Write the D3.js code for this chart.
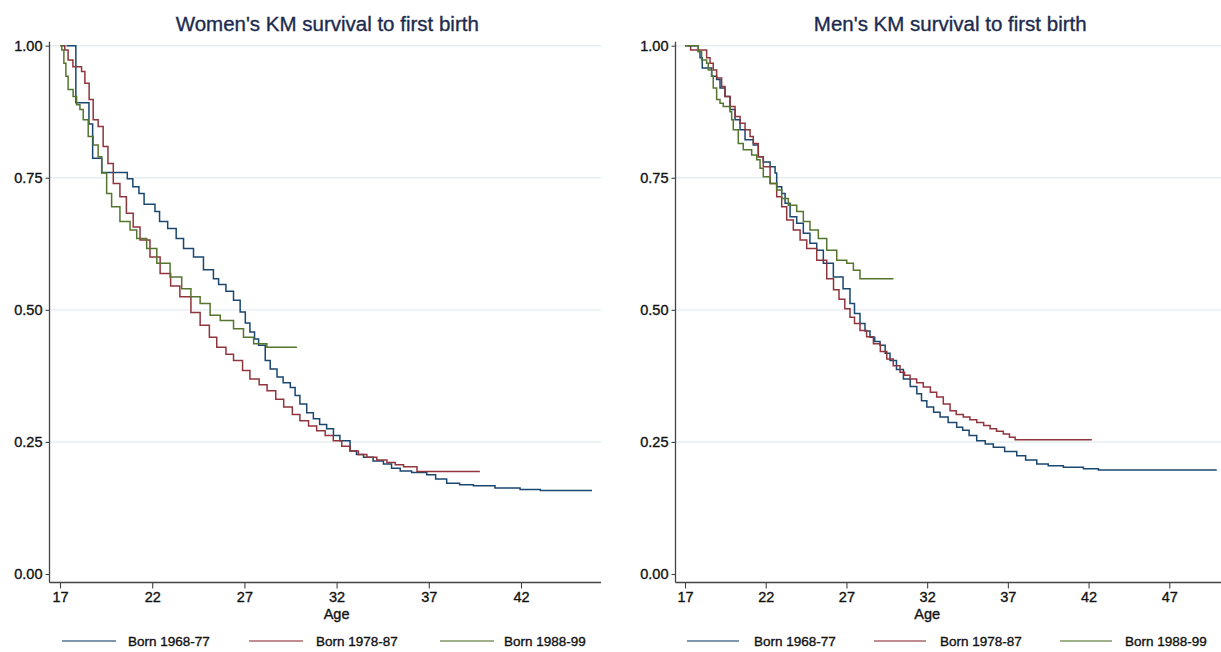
<!DOCTYPE html>
<html>
<head>
<meta charset="utf-8">
<script src="https://cdn.jsdelivr.net/npm/d3@7"></script>
<style>
  html, body { margin: 0; padding: 0; background: #ffffff; }
  svg { display: block; }
  text { font-family: "Liberation Sans", Arial, Helvetica, sans-serif; }
</style>
</head>
<body>
<svg id="chart" width="1221" height="652"></svg>
<script>
// ---- Data (age, survival) ----
const seriesNames = ["Born 1968-77", "Born 1978-87", "Born 1988-99"];
const yTicks = [0, 0.25, 0.5, 0.75, 1];
const womenTicks = [17, 22, 27, 32, 37, 42];
const menTicks = [17, 22, 27, 32, 37, 42, 47];

const women1968 = [[17.35,1],[17.86,0.892],[18.57,0.852],[18.77,0.787],[19.27,0.760],[20.65,0.748],[20.95,0.733],[21.28,0.720],[21.56,0.70],[22.15,0.686],[22.4,0.667],[22.84,0.654],[23.3,0.635],[23.7,0.616],[24.24,0.600],[24.78,0.576],[25.32,0.559],[25.6,0.548],[26.0,0.535],[26.41,0.518],[26.77,0.496],[27.05,0.475],[27.3,0.458],[27.55,0.445],[27.77,0.433],[28.13,0.404],[28.4,0.388],[28.77,0.373],[29.1,0.362],[29.49,0.353],[29.75,0.338],[30.01,0.322],[30.38,0.305],[30.74,0.294],[31.08,0.283],[31.46,0.275],[31.83,0.262],[32.18,0.252],[32.73,0.233],[33.08,0.226],[33.46,0.221],[33.98,0.214],[34.54,0.208],[34.98,0.200],[35.45,0.195],[36.07,0.192],[36.89,0.188],[37.37,0.180],[37.97,0.172],[38.67,0.169],[39.42,0.167],[40.59,0.163],[41.95,0.160],[43.05,0.158],[45.85,0.158]];
const women1978 = [[17.05,1],[17.26,0.992],[17.44,0.973],[17.7,0.96],[18.17,0.951],[18.35,0.929],[18.58,0.898],[18.8,0.86],[19.07,0.847],[19.34,0.809],[19.6,0.777],[19.89,0.739],[20.25,0.714],[20.6,0.683],[20.97,0.657],[21.34,0.632],[21.88,0.600],[22.43,0.569],[23.0,0.545],[23.5,0.525],[24.1,0.495],[24.6,0.471],[25.1,0.448],[25.5,0.429],[26.0,0.416],[26.41,0.404],[26.9,0.385],[27.3,0.369],[27.8,0.358],[28.23,0.347],[28.7,0.331],[29.13,0.316],[29.6,0.302],[30.01,0.29],[30.48,0.28],[30.92,0.271],[31.38,0.262],[31.82,0.252],[32.28,0.242],[32.73,0.233],[33.18,0.226],[33.64,0.221],[34.18,0.216],[34.73,0.211],[35.18,0.207],[35.63,0.203],[36.36,0.194],[39.77,0.194]];
const women1988 = [[17.0,1],[17.1,0.992],[17.21,0.967],[17.32,0.942],[17.44,0.917],[17.71,0.904],[17.9,0.888],[18.08,0.879],[18.26,0.86],[18.53,0.828],[18.8,0.812],[19.07,0.79],[19.26,0.759],[19.53,0.72],[19.8,0.695],[20.25,0.667],[20.8,0.651],[21.16,0.635],[21.7,0.616],[22.25,0.588],[22.97,0.562],[23.6,0.54],[24.1,0.525],[24.6,0.512],[25.14,0.49],[25.69,0.48],[26.41,0.464],[26.95,0.448],[27.5,0.436],[28.22,0.429],[29.85,0.429]];

const men1968 = [[17.0,1],[17.82,0.989],[17.93,0.977],[18.07,0.958],[18.65,0.942],[18.96,0.936],[19.17,0.92],[19.48,0.904],[19.79,0.879],[20.10,0.86],[20.41,0.841],[20.72,0.822],[21.23,0.812],[21.54,0.79],[21.85,0.78],[22.27,0.771],[22.58,0.759],[22.68,0.733],[22.99,0.72],[23.20,0.702],[23.51,0.676],[23.92,0.664],[24.33,0.645],[24.74,0.626],[25.16,0.613],[25.57,0.588],[26.19,0.562],[26.79,0.54],[27.22,0.512],[27.5,0.493],[27.84,0.474],[28.15,0.46],[28.46,0.448],[28.75,0.44],[29.08,0.433],[29.4,0.418],[29.70,0.404],[30.1,0.387],[30.53,0.369],[30.95,0.355],[31.36,0.341],[31.65,0.328],[31.98,0.316],[32.4,0.306],[32.80,0.297],[33.3,0.287],[33.83,0.278],[34.2,0.272],[34.6,0.262],[35.07,0.252],[35.6,0.246],[36.10,0.240],[36.8,0.232],[37.55,0.224],[38.1,0.216],[38.79,0.208],[39.5,0.205],[40.44,0.202],[41.68,0.199],[42.61,0.197],[49.94,0.197]];
const men1978 = [[17.2,1],[17.35,0.992],[18.34,0.977],[18.55,0.967],[18.75,0.954],[18.96,0.939],[19.27,0.923],[19.48,0.904],[19.79,0.885],[20.10,0.866],[20.41,0.853],[20.72,0.841],[21.03,0.828],[21.23,0.815],[21.54,0.79],[21.85,0.771],[22.27,0.739],[22.68,0.714],[22.99,0.695],[23.30,0.67],[23.71,0.651],[24.13,0.632],[24.54,0.616],[25.16,0.594],[25.78,0.559],[26.2,0.538],[26.54,0.52],[26.9,0.502],[27.22,0.486],[27.5,0.474],[27.84,0.461],[28.25,0.449],[28.67,0.436],[29.1,0.421],[29.50,0.407],[29.9,0.394],[30.32,0.382],[30.6,0.376],[30.94,0.369],[31.35,0.362],[31.76,0.354],[32.2,0.344],[32.59,0.335],[33.0,0.322],[33.42,0.309],[33.8,0.302],[34.24,0.297],[34.65,0.292],[35.07,0.287],[35.5,0.281],[35.90,0.275],[36.3,0.27],[36.72,0.265],[37.1,0.259],[37.45,0.254],[42.20,0.254]];
const men1988 = [[17.0,1],[17.82,0.989],[18.03,0.973],[18.34,0.967],[18.44,0.954],[18.65,0.942],[18.75,0.92],[18.96,0.898],[19.17,0.891],[19.37,0.885],[19.79,0.875],[19.89,0.86],[19.99,0.841],[20.30,0.815],[20.61,0.803],[21.13,0.793],[21.44,0.784],[21.65,0.768],[21.85,0.752],[22.27,0.739],[22.68,0.727],[22.99,0.711],[23.40,0.698],[23.92,0.686],[24.33,0.667],[24.74,0.651],[25.26,0.635],[25.78,0.613],[26.40,0.594],[27.02,0.588],[27.43,0.575],[27.84,0.559],[29.91,0.559]];

const colors = ["#1a476f", "#90353b", "#55752f"];

// ---- Drawing ----
const svg = d3.select("#chart");

const panels = [
  { title: "Women's KM survival to first birth", series: [women1968, women1978, women1988],
    ticks: womenTicks, axisX: 49.5, rightX: 601, tick0: 60, tickEnd: 521, domEnd: 42,
    legend: [{lx: 62, tx: 128}, {lx: 249, tx: 316}, {lx: 440, tx: 504}], legendLen: 54 },
  { title: "Men's KM survival to first birth", series: [men1968, men1978, men1988],
    ticks: menTicks, axisX: 675.5, rightX: 1221, tick0: 685, tickEnd: 1169.3, domEnd: 47,
    legend: [{lx: 687, tx: 754}, {lx: 874, tx: 940}, {lx: 1060, tx: 1125}], legendLen: 52 }
];

const y = d3.scaleLinear().domain([0, 1]).range([574, 45.7]);
const axisY = 582.5;

function heavy(sel, col) {
  sel.attr("fill", col).attr("stroke", col).attr("stroke-width", 0.35);
}

panels.forEach(p => {
  const x = d3.scaleLinear().domain([17, p.domEnd]).range([p.tick0, p.tickEnd]);
  const g = svg.append("g");

  // gridlines
  g.append("g").selectAll("line").data(yTicks.filter(v => v > 0)).join("line")
    .attr("x1", p.axisX).attr("x2", p.rightX)
    .attr("y1", d => y(d)).attr("y2", d => y(d))
    .attr("stroke", "#e6eef1").attr("stroke-width", 1.4);

  // y axis
  const ya = g.append("g").attr("transform", `translate(${p.axisX},0)`)
    .call(d3.axisLeft(y).tickValues(yTicks).tickFormat(d3.format(".2f")).tickSize(4).tickPadding(3));
  ya.select(".domain").attr("d", `M0,${y(1) - 4}V${axisY}`).attr("stroke", "#444").attr("stroke-width", 1.3);
  ya.selectAll(".tick line").attr("stroke", "#444").attr("stroke-width", 1.1);
  ya.selectAll(".tick text").attr("font-size", 14.5)
    .attr("font-family", "'Liberation Sans', Arial, sans-serif").call(heavy, "#111");

  // x axis
  const xa = g.append("g").attr("transform", `translate(0,${axisY})`)
    .call(d3.axisBottom(x).tickValues(p.ticks).tickFormat(d3.format("d")).tickSize(6).tickPadding(3));
  xa.select(".domain").attr("d", `M${p.axisX},0H${p.rightX}`).attr("stroke", "#444").attr("stroke-width", 1.3);
  xa.selectAll(".tick line").attr("stroke", "#444").attr("stroke-width", 1.1);
  xa.selectAll(".tick text").attr("font-size", 14.5)
    .attr("font-family", "'Liberation Sans', Arial, sans-serif").call(heavy, "#111");

  // axis title
  const midX = (p.axisX + p.rightX) / 2;
  g.append("text").attr("x", x(32)).attr("y", 619).attr("text-anchor", "middle")
    .attr("font-size", 14.5).call(heavy, "#111").text("Age");

  // title
  g.append("text").attr("x", midX + 2).attr("y", 30.5).attr("text-anchor", "middle")
    .attr("font-size", 20.5).call(heavy, "#1c2b4e").text(p.title);

  // curves
  const line = d3.line().x(d => x(d[0])).y(d => y(d[1])).curve(d3.curveStepAfter);
  p.series.forEach((s, i) => {
    g.append("path").datum(s).attr("d", line)
      .attr("fill", "none").attr("stroke", colors[i]).attr("stroke-width", 1.5)
      .attr("stroke-linejoin", "miter");
  });

  // legend
  p.legend.forEach((L, i) => {
    g.append("line").attr("x1", L.lx).attr("x2", L.lx + p.legendLen)
      .attr("y1", 641).attr("y2", 641)
      .attr("stroke", colors[i]).attr("stroke-width", 1.6).attr("opacity", 0.75);
    g.append("text").attr("x", L.tx).attr("y", 646).attr("font-size", 13.5)
      .call(heavy, "#111").text(seriesNames[i]);
  });
});
</script>
</body>
</html>
